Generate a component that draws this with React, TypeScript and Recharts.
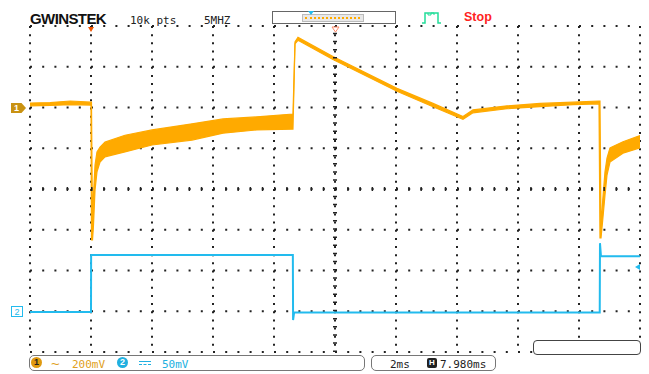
import React from 'react';
import { ComposedChart, Area, Line, XAxis, YAxis, CartesianGrid, ReferenceLine } from 'recharts';

document.body.style.margin = '0';

// screen units: x in time divisions (0..10), y in vertical divisions (0..8)
const ch1X = [0, 0.33, 0.66, 1.0, 1.008, 1.025, 1.041, 1.066, 1.098, 1.148, 1.23, 1.557, 2.0, 2.656, 3.164, 3.721, 4.311, 4.344, 4.393, 4.967, 6.016, 6.607, 7.098, 7.262, 7.82, 8.361, 8.902, 9.328, 9.344, 9.361, 9.389, 9.426, 9.459, 9.508, 9.721, 10];
const ch1Lo = [6.04, 6.05, 6.07, 6.06, 2.75, 2.75, 3.12, 3.98, 4.42, 4.66, 4.79, 4.91, 5.08, 5.2, 5.37, 5.45, 5.47, 7.56, 7.65, 7.18, 6.4, 6.02, 5.71, 5.87, 5.97, 6.02, 6.07, 6.09, 2.8, 2.8, 3.24, 3.85, 4.34, 4.66, 4.88, 5.01];
const ch1Hi = [6.11, 6.12, 6.16, 6.13, 6.13, 2.94, 3.85, 4.59, 4.91, 5.03, 5.15, 5.32, 5.45, 5.6, 5.72, 5.77, 5.84, 7.61, 7.72, 7.25, 6.47, 6.1, 5.78, 5.94, 6.04, 6.1, 6.13, 6.16, 6.16, 2.99, 3.73, 4.42, 4.76, 5.01, 5.16, 5.31];

const ch2X = [0, 1.0, 1.002, 4.309, 4.313, 4.33, 9.34, 9.344, 9.36, 10];
const ch2Y = [0.98, 0.98, 2.38, 2.38, 0.785, 0.97, 0.97, 2.67, 2.35, 2.35];

const xMajor = [0, 1, 2, 3, 4, 5, 6, 7, 8, 9, 10];
const yMajor = [0, 1, 2, 3, 4, 5, 6, 7, 8];
const xMinor = Array.from({ length: 51 }, (_, i) => i * 0.2);
const yMinor = Array.from({ length: 41 }, (_, i) => i * 0.2);

const ch1Data = ch1X.map((x, i) => ({ x, band: [ch1Lo[i], ch1Hi[i]] }));
const ch2Data = ch2X.map((x, i) => ({ x, v: ch2Y[i] }));

const ORANGE = '#ffaa00';
const CYAN = '#22bbee';
const mono = '"DejaVu Sans Mono", monospace';
const sans = '"Liberation Sans", Arial, sans-serif';

const blank = () => '';

const Txt: React.FC<{ x: number; y: number; size: number; color: string; font?: string; bold?: boolean; children: React.ReactNode; ls?: number }> = ({ x, y, size, color, font = mono, bold, children, ls }) => (
  <div style={{ position: 'absolute', left: x, top: y, fontSize: size, lineHeight: `${size}px`, color, fontFamily: font, fontWeight: bold ? 700 : 400, whiteSpace: 'nowrap', letterSpacing: ls }}>
    {children}
  </div>
);

export default function App() {
  return (
    <div style={{ position: 'relative', width: 649, height: 374, background: '#fff', overflow: 'hidden' }}>
      <ComposedChart width={649} height={374} margin={{ top: 26, right: 9, bottom: 22, left: 30 }}>
        <XAxis xAxisId="x" type="number" dataKey="x" domain={[0, 10]} ticks={xMajor} allowDataOverflow hide />
        <YAxis yAxisId="y" type="number" domain={[0, 8]} ticks={yMajor} allowDataOverflow hide />
        <CartesianGrid xAxisId="x" yAxisId="y" vertical={false} stroke="#222" strokeWidth={2} strokeDasharray="2 10.2" />
        <CartesianGrid xAxisId="x" yAxisId="y" horizontal={false} stroke="#222" strokeWidth={2} strokeDasharray="2 6.15" />
        <ReferenceLine xAxisId="x" yAxisId="y" x={5} stroke="#222" strokeWidth={4} strokeDasharray="1.5 6.65" />
        <ReferenceLine xAxisId="x" yAxisId="y" y={4} stroke="#222" strokeWidth={4} strokeDasharray="1.5 10.7" />
        <XAxis xAxisId="b" orientation="bottom" type="number" domain={[0, 10]} ticks={xMinor} allowDataOverflow mirror height={0} tickSize={3} tickFormatter={blank} stroke="#111" axisLine={{ stroke: '#111', strokeWidth: 2 }} />
        <XAxis xAxisId="t" orientation="top" type="number" domain={[0, 10]} ticks={xMinor} allowDataOverflow mirror height={0} tickSize={3} tickFormatter={blank} stroke="#111" axisLine={{ stroke: '#111', strokeWidth: 2 }} />
        <YAxis yAxisId="l" orientation="left" type="number" domain={[0, 8]} ticks={yMinor} allowDataOverflow mirror width={0} tickSize={3} tickFormatter={blank} stroke="#111" axisLine={{ stroke: '#111', strokeWidth: 2 }} />
        <YAxis yAxisId="r" orientation="right" type="number" domain={[0, 8]} ticks={yMinor} allowDataOverflow mirror width={0} tickSize={3} tickFormatter={blank} stroke="#111" axisLine={{ stroke: '#111', strokeWidth: 2 }} />
        <Area xAxisId="x" yAxisId="y" data={ch1Data} dataKey="band" type="linear" stroke={ORANGE} strokeWidth={1.2} fill={ORANGE} fillOpacity={1} dot={false} activeDot={false} isAnimationActive={false} />
        <Line xAxisId="x" yAxisId="y" data={ch2Data} dataKey="v" type="linear" stroke={CYAN} strokeWidth={2} dot={false} activeDot={false} isAnimationActive={false} />
      </ComposedChart>

      {/* header */}
      <Txt x={30} y={11.3} size={15} color="#111" font={sans} bold ls={-0.6}>GWINSTEK</Txt>
      <Txt x={130} y={14.7} size={11} color="#222">10k pts</Txt>
      <Txt x={204} y={14.7} size={11} color="#222">5MHZ</Txt>
      <div style={{ position: 'absolute', left: 272, top: 11, width: 122, height: 11, border: '1px solid #666', background: '#fff' }}>
        <div style={{ position: 'absolute', left: 29, top: 2, width: 60, height: 6, background: '#e8e8e8', border: '1px solid #bbb' }}>
          <div style={{ position: 'absolute', left: 2, top: 2, width: 55, height: 0, borderTop: `2px dotted ${ORANGE}` }} />
        </div>
        <div style={{ position: 'absolute', left: 35, top: -1, width: 0, height: 0, borderLeft: '3px solid transparent', borderRight: '3px solid transparent', borderTop: `4px solid ${CYAN}` }} />
      </div>
      <svg style={{ position: 'absolute', left: 421, top: 11 }} width={22} height={14}>
        <polyline points="1,12 4,12 4,2 17,2 17,12 20,12" fill="none" stroke="#22dd99" strokeWidth={1.5} />
        <polyline points="7,2 7,4 10,4 10,2 13,2 13,4" fill="none" stroke="#22dd99" strokeWidth={1} />
      </svg>
      <Txt x={464} y={11.4} size={12.5} color="#ff2222" font={sans} bold>Stop</Txt>

      {/* top markers */}
      <div style={{ position: 'absolute', left: 88, top: 27, width: 0, height: 0, borderLeft: '3.5px solid transparent', borderRight: '3.5px solid transparent', borderTop: '5px solid #ee5500' }} />
      <svg style={{ position: 'absolute', left: 331, top: 26 }} width={9} height={7}>
        <polygon points="1,1 8,1 4.5,6" fill="#fff" stroke="#ff8866" strokeWidth={1} />
      </svg>

      {/* channel markers */}
      <div style={{ position: 'absolute', left: 11, top: 103, width: 15, height: 10, background: '#c99212', clipPath: 'polygon(0 0, 70% 0, 100% 50%, 70% 100%, 0 100%)', color: '#fff', fontFamily: sans, fontWeight: 700, fontSize: 9, lineHeight: '10px', paddingLeft: 3, boxSizing: 'border-box' }}>1</div>
      <div style={{ position: 'absolute', left: 11, top: 306, width: 12, height: 11, background: '#fff', border: `1px solid ${CYAN}`, color: CYAN, fontFamily: sans, fontSize: 9, lineHeight: '11px', textAlign: 'center', boxSizing: 'border-box' }}>2</div>
      <div style={{ position: 'absolute', left: 635, top: 264, width: 0, height: 0, borderTop: '3.5px solid transparent', borderBottom: '3.5px solid transparent', borderRight: `5px solid ${CYAN}` }} />

      {/* footer */}
      <div style={{ position: 'absolute', left: 29, top: 355, width: 336, height: 16, border: '1px solid #777', borderRadius: 5, boxSizing: 'border-box' }} />
      <div style={{ position: 'absolute', left: 31, top: 357, width: 11, height: 11, borderRadius: 6, background: '#e09a10', color: '#222', fontFamily: sans, fontWeight: 700, fontSize: 9, lineHeight: '11px', textAlign: 'center' }}>1</div>
      <Txt x={51} y={356} size={15} color="#e0a020" font={sans}>~</Txt>
      <Txt x={72} y={359} size={11} color="#e0a020">200mV</Txt>
      <div style={{ position: 'absolute', left: 117, top: 357, width: 11, height: 11, borderRadius: 6, background: '#20b0e0', color: '#fff', fontFamily: sans, fontWeight: 700, fontSize: 9, lineHeight: '11px', textAlign: 'center' }}>2</div>
      <div style={{ position: 'absolute', left: 139, top: 361, width: 12, height: 2, borderTop: '1.5px solid #20b0e0', borderBottom: '1.5px dashed #20b0e0' }} />
      <Txt x={162} y={359} size={11} color="#20b0e0">50mV</Txt>

      <div style={{ position: 'absolute', left: 371, top: 355, width: 125, height: 16, border: '1px solid #777', borderRadius: 5, boxSizing: 'border-box' }} />
      <Txt x={390} y={359} size={11} color="#222">2ms</Txt>
      <div style={{ position: 'absolute', left: 427, top: 358, width: 10, height: 10, background: '#222', borderRadius: 2, color: '#fff', fontFamily: sans, fontWeight: 700, fontSize: 8, lineHeight: '10px', textAlign: 'center' }}>H</div>
      <Txt x={440} y={359} size={11} color="#222">7.980ms</Txt>

      <div style={{ position: 'absolute', left: 533, top: 340, width: 108, height: 15, border: '1px solid #444', borderRadius: 4, background: '#fff', boxSizing: 'border-box' }} />
    </div>
  );
}
